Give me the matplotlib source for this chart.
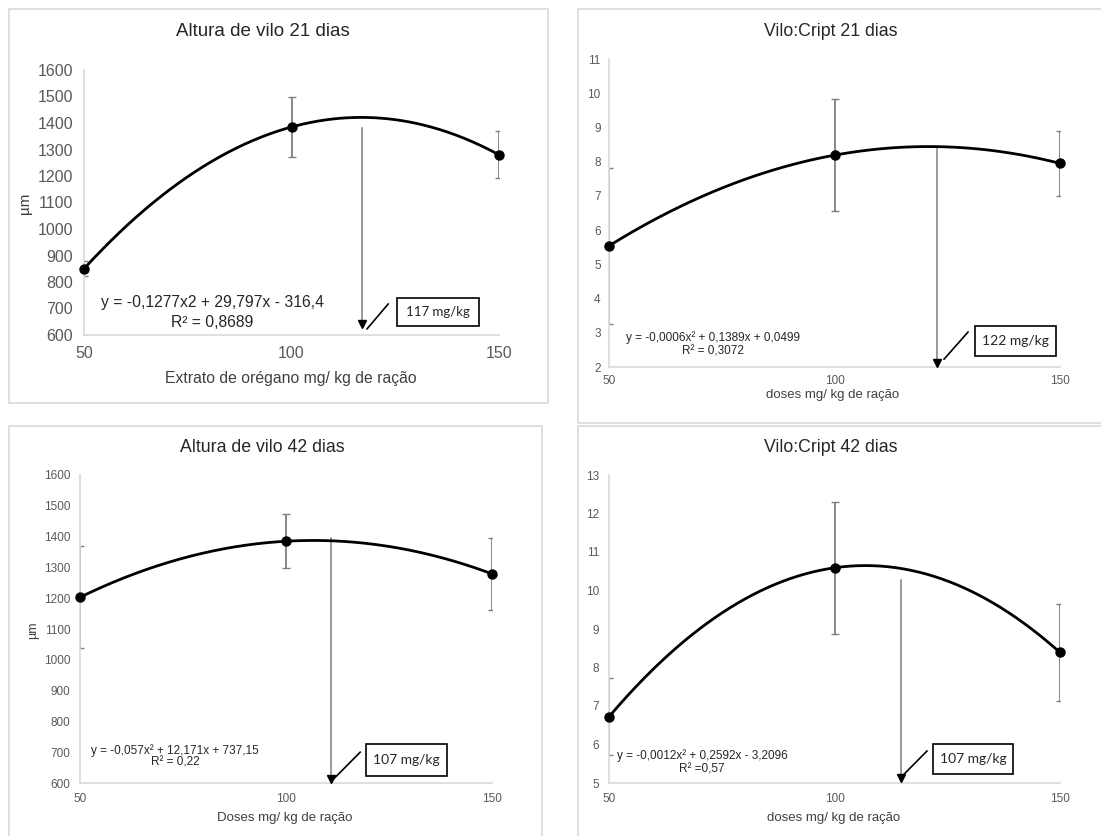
import numpy as np
import matplotlib.pyplot as plt
from matplotlib.patches import Rectangle

plt.rcParams['font.family'] = ['Liberation Sans', 'DejaVu Sans']

W, H = 1101, 836

doses = [50, 100, 150]

# Altura de vilo 21 dias (um)
av21_mean = [850, 1385, 1280]
av21_err = [28, 113, 88]

# Vilo:Cript 21 dias
vc21_mean = [5.54, 8.19, 7.95]
vc21_err = [2.27, 1.63, 0.94]

# Altura de vilo 42 dias (um)
av42_mean = [1203, 1385, 1279]
av42_err = [165, 88, 117]

# Vilo:Cript 42 dias
vc42_mean = [6.72, 10.59, 8.39]
vc42_err = [1.0, 1.72, 1.27]

titles = ["Altura de vilo 21 dias", "Vilo:Cript 21 dias",
          "Altura de vilo 42 dias", "Vilo:Cript 42 dias"]
xlabels = ["Extrato de orégano mg/ kg de ração", "doses mg/ kg de ração",
           "Doses mg/ kg de ração", "doses mg/ kg de ração"]
equations = ["y = -0,1277x2 + 29,797x - 316,4",
             "y = -0,0006x² + 0,1389x + 0,0499",
             "y = -0,057x² + 12,171x + 737,15",
             "y = -0,0012x² + 0,2592x - 3,2096"]
r2_labels = ["R² = 0,8689", "R² = 0,3072", "R² = 0,22", "R² =0,57"]
opt_labels = ["117 mg/kg", "122 mg/kg", "107 mg/kg", "107 mg/kg"]

TICK_C = "#595959"
TEXT_C = "#404040"
AXIS_C = "#d9d9d9"
ERR_C = "#7f7f7f"

fig = plt.figure(figsize=(W / 100, H / 100), dpi=100)


def ax_rect(x0, x1, ytop, ybot):
    return [x0 / W, 1 - ybot / H, (x1 - x0) / W, (ybot - ytop) / H]


def ftext(px, py, s, **kw):
    fig.text(px / W, 1 - py / H, s, ha="center", va="center", **kw)


def border(x0, y0, x1, y1):
    fig.add_artist(Rectangle((x0 / W, 1 - y1 / H), (x1 - x0) / W, (y1 - y0) / H,
                             transform=fig.transFigure, fill=False,
                             ec=AXIS_C, lw=1.2))


# panel frames
border(9, 9, 548, 403)
border(578, 9, 1115, 423)
border(9, 426, 542, 850)
border(578, 426, 1115, 850)

panels = [
    dict(mean=av21_mean, err=av21_err, rect=ax_rect(84, 499, 70, 335),
         ylim=(600, 1600), yticks=np.arange(600, 1601, 100), tick_fs=11.5,
         tick_pad=8,
         title_xy=(263, 32), title_fs=13.5, xl_xy=(291, 379), xl_fs=11.3,
         yl_xy=(25, 203), yl_fs=11, eq_fs=11.3,
         arrow_x=117, arrow_top=1382, arrow_tip=640,
         slash=((118.2, 623), (123.3, 717)), box=(125.4, 634, 145.2, 740),
         eq_xy=(81, 721), r2_xy=(81, 649), box_fs=9.5),
    dict(mean=vc21_mean, err=vc21_err, rect=ax_rect(609, 1060, 59, 367),
         ylim=(2, 11), yticks=np.arange(2, 12, 1), tick_fs=8.5, tick_pad=6,
         title_xy=(831, 31), title_fs=12.8, xl_xy=(833, 395), xl_fs=9.5,
         yl_xy=None, yl_fs=9, eq_fs=8.5,
         arrow_x=122.7, arrow_top=8.37, arrow_tip=2.12,
         slash=((124.3, 2.23), (129.6, 3.02)), box=(131.2, 2.32, 149.1, 3.20),
         eq_xy=(73.1, 2.85), r2_xy=(73.1, 2.44), box_fs=10),
    dict(mean=av42_mean, err=av42_err, rect=ax_rect(80, 492, 475, 783),
         ylim=(600, 1600), yticks=np.arange(600, 1601, 100), tick_fs=8.5,
         tick_pad=7,
         title_xy=(262, 447), title_fs=12.8, xl_xy=(285, 818), xl_fs=9.5,
         yl_xy=(33, 630), yl_fs=9, eq_fs=8.5,
         arrow_x=110.9, arrow_top=1397, arrow_tip=614,
         slash=((111.7, 615), (118.0, 700)), box=(119.4, 622, 139.1, 726),
         eq_xy=(73.1, 706), r2_xy=(73.1, 667), box_fs=10),
    dict(mean=vc42_mean, err=vc42_err, rect=ax_rect(609, 1060, 475, 783),
         ylim=(5, 13), yticks=np.arange(5, 14, 1), tick_fs=8.5, tick_pad=7,
         title_xy=(831, 447), title_fs=12.8, xl_xy=(834, 818), xl_fs=9.5,
         yl_xy=None, yl_fs=9, eq_fs=8.5,
         arrow_x=114.7, arrow_top=10.27, arrow_tip=5.12,
         slash=((115.0, 5.18), (120.5, 5.83)), box=(121.8, 5.23, 139.6, 6.01),
         eq_xy=(70.6, 5.70), r2_xy=(70.6, 5.36), box_fs=10),
]

for i, p in enumerate(panels):
    ax = fig.add_axes(p["rect"])
    ax.set_xlim(50, 150)
    ax.set_ylim(*p["ylim"])
    ax.set_xticks(doses)
    ax.set_yticks(p["yticks"])
    ax.tick_params(length=0, labelsize=p["tick_fs"], labelcolor=TICK_C,
                   pad=p["tick_pad"])
    for s in ["top", "right"]:
        ax.spines[s].set_visible(False)
    for s in ["left", "bottom"]:
        ax.spines[s].set_color(AXIS_C)
        ax.spines[s].set_linewidth(1.2)
    ax.patch.set_alpha(0)

    # error bars (clipped at plot edge like the original)
    ax.errorbar(doses, p["mean"], yerr=p["err"], fmt="none", ecolor=ERR_C,
                elinewidth=1.3, capsize=3, capthick=1.0, zorder=2)

    # quadratic trendline
    coef = np.polyfit(doses, p["mean"], 2)
    xs = np.linspace(50, 150, 300)
    ax.plot(xs, np.polyval(coef, xs), color="black", lw=2.0, zorder=3,
            clip_on=False)
    ax.plot(doses, p["mean"], "o", color="black", ms=6.5, zorder=4,
            clip_on=False)

    # optimum dose arrow
    ax.plot([p["arrow_x"], p["arrow_x"]], [p["arrow_top"], p["arrow_tip"]],
            color=ERR_C, lw=1.1, zorder=2)
    ax.plot([p["arrow_x"]], [p["arrow_tip"]], marker="v", color="black",
            ms=6, zorder=3, clip_on=False)
    (sx0, sy0), (sx1, sy1) = p["slash"]
    ax.plot([sx0, sx1], [sy0, sy1], color="black", lw=1.2)
    bx0, by0, bx1, by1 = p["box"]
    ax.add_patch(Rectangle((bx0, by0), bx1 - bx0, by1 - by0, fill=False,
                           ec="black", lw=1.2, zorder=3))
    ax.text((bx0 + bx1) / 2, (by0 + by1) / 2, opt_labels[i], ha="center",
            va="center", fontsize=p["box_fs"], color="#262626",
            family=["Lato", "DejaVu Sans"])

    # equation
    ax.text(p["eq_xy"][0], p["eq_xy"][1], equations[i], ha="center",
            va="center", fontsize=p["eq_fs"], color="#262626")
    ax.text(p["r2_xy"][0], p["r2_xy"][1], r2_labels[i], ha="center",
            va="center", fontsize=p["eq_fs"], color="#262626")

    ftext(*p["title_xy"], titles[i], fontsize=p["title_fs"], color="#262626")
    ftext(*p["xl_xy"], xlabels[i], fontsize=p["xl_fs"], color=TEXT_C)
    if p["yl_xy"] is not None:
        ftext(*p["yl_xy"], "µm", fontsize=p["yl_fs"], color=TEXT_C,
              rotation=90)

fig.savefig("out.png", dpi=100, facecolor="white")
